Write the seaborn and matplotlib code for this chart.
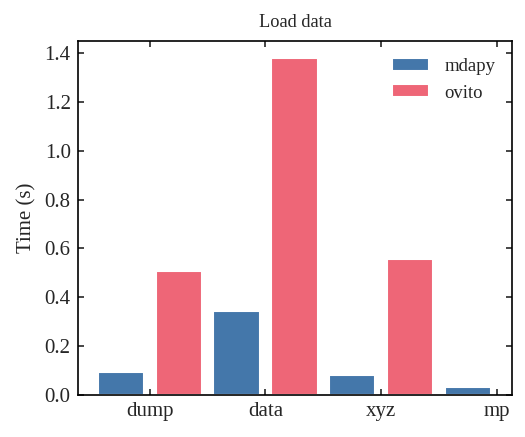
import numpy as np
import pandas as pd
import matplotlib
matplotlib.use("Agg")
import matplotlib.pyplot as plt
import seaborn as sns

categories = ["dump", "data", "xyz", "mp"]
mdapy_times = [0.095, 0.344, 0.082, 0.033]
ovito_times = [0.508, 1.381, 0.556, np.nan]
series_names = ["mdapy", "ovito"]
colors = ["#4477AA", "#EE6677"]

df = pd.DataFrame({
    "format": categories * 2,
    "Time": mdapy_times + ovito_times,
    "tool": [series_names[0]] * 4 + [series_names[1]] * 4,
})

sns.set_style("ticks")
plt.rcParams["font.family"] = ["Liberation Serif", "DejaVu Serif"]
plt.rcParams["mathtext.fontset"] = "stix"

fig = plt.figure(figsize=(3.5, 437 / 150), dpi=150)
ax = fig.add_axes([78 / 525, 1 - 395 / 437, (512 - 78) / 525, (395 - 41) / 437])

sns.barplot(data=df, x="format", y="Time", hue="tool", palette=colors,
            width=1.0, gap=0.2, ax=ax, saturation=1, legend=True)

ax.set_xlim(-0.62, 3.13)
ax.set_ylim(0, 1.449)
ax.set_yticks(np.arange(0, 1.41, 0.2))
ax.set_xlabel("")
ax.set_ylabel("Time (s)", fontsize=10)
ax.set_title("Load data", fontsize=8.8, pad=6.5)
ax.tick_params(direction="in", top=True, right=True, length=3, width=0.8,
               labelsize=10)
for s in ax.spines.values():
    s.set_visible(True)
    s.set_linewidth(0.8)
    s.set_color("black")

handles, labels = ax.get_legend_handles_labels()
ax.legend(handles, labels, frameon=False, fontsize=9, loc="upper right",
          title=None)

fig.savefig("out.png", dpi=150)
